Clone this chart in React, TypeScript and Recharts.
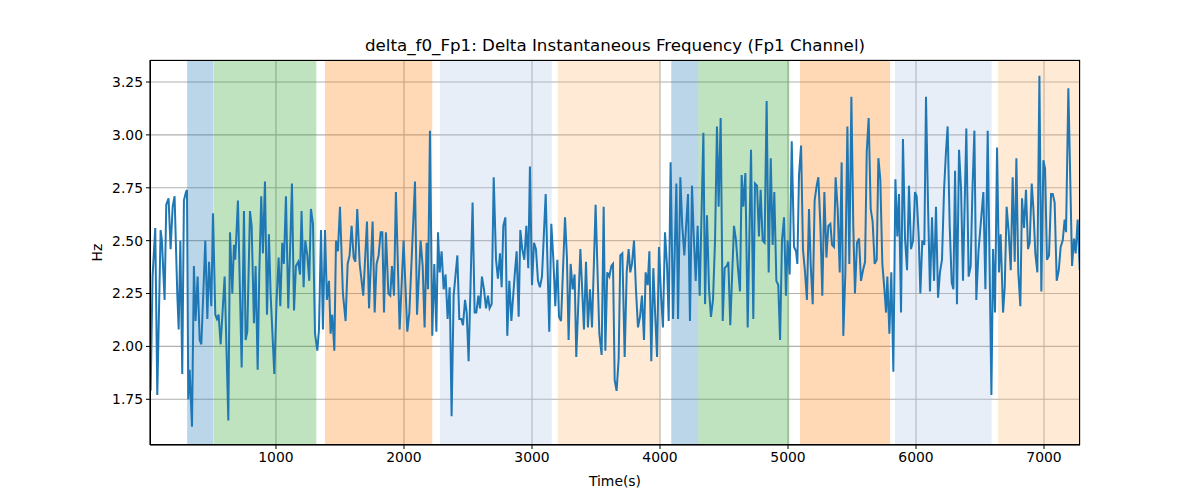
import { ComposedChart, Line, XAxis, YAxis, CartesianGrid, ReferenceArea, Label } from "recharts"

// time stamps (s) of the vertices
const times = [
  21, 36, 57, 73, 99, 109, 130, 143, 161, 177, 193, 208, 229, 240, 253, 268, 281, 297, 305, 315,
  326, 344, 359, 372, 388, 404, 417, 448, 464, 477, 495, 508, 526, 539, 552, 568, 599, 628, 641, 659,
  672, 682, 703, 719, 732, 750, 763, 776, 797, 810, 828, 841, 857, 870, 885, 898, 914, 930, 945, 958,
  987, 1005, 1021, 1034, 1049, 1062, 1078, 1096, 1109, 1125, 1141, 1156, 1174, 1188, 1200, 1216, 1229, 1245, 1260, 1273,
  1289, 1305, 1323, 1336, 1352, 1367, 1383, 1398, 1414, 1427, 1440, 1456, 1469, 1484, 1500, 1523, 1544, 1560, 1575, 1591,
  1607, 1620, 1635, 1654, 1682, 1711, 1727, 1755, 1771, 1786, 1802, 1818, 1831, 1844, 1859, 1878, 1893, 1906, 1922, 1937,
  1966, 1997, 2026, 2042, 2086, 2102, 2130, 2146, 2161, 2177, 2188, 2203, 2221, 2237, 2253, 2266, 2279, 2294, 2310, 2325,
  2341, 2357, 2372, 2388, 2417, 2432, 2448, 2461, 2477, 2490, 2505, 2536, 2552, 2565, 2581, 2594, 2609, 2625, 2641, 2656,
  2669, 2685, 2701, 2719, 2734, 2750, 2763, 2776, 2792, 2807, 2823, 2839, 2864, 2880, 2896, 2909, 2924, 2940, 2956, 2971,
  2984, 3000, 3016, 3031, 3047, 3062, 3078, 3107, 3135, 3151, 3167, 3182, 3198, 3211, 3227, 3258, 3273, 3286, 3302, 3318,
  3333, 3346, 3378, 3406, 3422, 3437, 3453, 3469, 3497, 3526, 3544, 3560, 3573, 3588, 3604, 3620, 3633, 3646, 3661, 3677,
  3690, 3706, 3724, 3740, 3755, 3768, 3781, 3797, 3812, 3828, 3844, 3859, 3875, 3888, 3904, 3917, 3932, 3948, 3961, 3977,
  3992, 4008, 4023, 4039, 4055, 4068, 4083, 4102, 4128, 4141, 4159, 4174, 4190, 4219, 4234, 4250, 4263, 4279, 4294, 4310,
  4339, 4352, 4367, 4383, 4398, 4414, 4430, 4445, 4458, 4474, 4490, 4505, 4521, 4534, 4549, 4578, 4594, 4609, 4625, 4638,
  4651, 4667, 4685, 4711, 4729, 4742, 4758, 4773, 4786, 4802, 4817, 4833, 4849, 4865, 4880, 4893, 4909, 4924, 4938, 4953,
  4969, 4984, 4997, 5013, 5029, 5047, 5063, 5073, 5086, 5102, 5117, 5133, 5148, 5164, 5177, 5193, 5208, 5224, 5237, 5253,
  5268, 5284, 5300, 5315, 5331, 5344, 5359, 5372, 5388, 5404, 5419, 5432, 5448, 5464, 5479, 5495, 5510, 5523, 5539, 5555,
  5570, 5586, 5602, 5615, 5630, 5646, 5661, 5677, 5693, 5706, 5721, 5737, 5753, 5766, 5776, 5792, 5807, 5823, 5839, 5854,
  5867, 5883, 5898, 5914, 5930, 5945, 5961, 5977, 5992, 6005, 6021, 6034, 6049, 6065, 6078, 6094, 6109, 6125, 6141, 6156,
  6172, 6187, 6203, 6219, 6234, 6247, 6263, 6279, 6292, 6305, 6320, 6336, 6352, 6367, 6393, 6411, 6427, 6440, 6456, 6471,
  6488, 6526, 6542, 6560, 6589, 6602, 6617, 6633, 6648, 6661, 6680, 6693, 6708, 6724, 6740, 6755, 6771, 6784, 6799, 6815,
  6828, 6844, 6859, 6875, 6888, 6904, 6917, 6932, 6948, 6964, 6979, 6995, 7008, 7023, 7039, 7055, 7068, 7083, 7099, 7115,
  7130, 7146, 7161, 7172, 7190, 7219, 7234, 7247, 7263, 7279,
]

// delta instantaneous frequency (Hz)
const hz = [
  1.79, 2.33, 2.56, 1.77, 2.55, 2.50, 2.22, 2.67, 2.70, 2.46, 2.66, 2.71, 2.25, 2.08, 2.50, 1.87, 2.69, 2.73, 2.74, 1.75,
  1.89, 1.62, 2.38, 2.12, 2.33, 2.03, 2.01, 2.50, 2.13, 2.40, 2.19, 2.63, 2.15, 2.13, 2.15, 2.01, 2.33, 1.65, 2.54, 2.25,
  2.48, 2.41, 2.69, 2.25, 1.90, 2.64, 2.03, 2.07, 2.64, 2.57, 2.11, 2.38, 1.89, 2.35, 2.71, 2.44, 2.78, 2.15, 2.53, 2.25,
  1.87, 2.22, 2.42, 2.19, 2.49, 2.39, 2.71, 2.18, 2.43, 2.77, 2.17, 2.38, 2.40, 2.34, 2.64, 2.28, 2.50, 2.43, 2.31, 2.65,
  2.58, 2.06, 1.98, 2.08, 2.55, 2.08, 2.55, 2.22, 2.31, 2.06, 2.15, 1.98, 2.50, 2.45, 2.66, 2.25, 2.12, 2.39, 2.43, 2.57,
  2.42, 2.40, 2.65, 2.39, 2.24, 2.59, 2.18, 2.59, 2.16, 2.39, 2.43, 2.54, 2.54, 2.16, 2.54, 2.25, 2.24, 2.38, 2.24, 2.73,
  2.08, 2.50, 2.07, 2.16, 2.78, 2.15, 2.50, 2.38, 2.09, 2.49, 2.27, 3.02, 2.05, 2.39, 2.07, 2.54, 2.35, 2.45, 2.27, 2.34,
  2.13, 2.28, 1.67, 2.24, 2.43, 2.13, 2.13, 2.10, 2.22, 2.16, 1.93, 2.68, 2.16, 2.16, 2.24, 2.18, 2.33, 2.27, 2.18, 2.24,
  2.18, 2.20, 2.80, 2.41, 2.32, 2.44, 2.28, 2.57, 2.61, 2.05, 2.31, 2.12, 2.33, 2.45, 2.14, 2.55, 2.46, 2.41, 2.57, 2.37,
  2.85, 2.29, 2.49, 2.46, 2.31, 2.28, 2.33, 2.72, 2.07, 2.58, 2.41, 2.19, 2.41, 2.14, 2.12, 2.61, 2.42, 2.03, 2.39, 2.27,
  2.34, 1.95, 2.46, 2.08, 2.40, 2.09, 2.27, 2.09, 2.67, 2.06, 1.96, 2.66, 1.98, 2.35, 2.33, 2.38, 2.39, 1.84, 1.79, 1.94,
  2.43, 2.44, 1.95, 2.35, 2.46, 2.35, 2.39, 2.50, 2.27, 2.09, 2.14, 2.24, 2.03, 2.35, 2.29, 2.45, 1.93, 2.37, 2.17, 1.95,
  2.47, 2.24, 2.09, 2.54, 2.38, 2.12, 2.87, 2.13, 2.77, 2.13, 2.80, 2.57, 2.43, 2.72, 2.12, 2.76, 2.53, 2.31, 2.57, 2.24,
  3.01, 2.20, 2.62, 2.27, 2.14, 2.22, 2.50, 3.04, 2.66, 3.08, 2.12, 2.37, 2.38, 2.40, 2.10, 2.57, 2.50, 2.37, 2.26, 2.81,
  2.66, 2.82, 2.09, 2.93, 2.13, 2.77, 2.76, 2.52, 2.74, 2.50, 2.49, 3.16, 2.35, 2.89, 2.48, 2.73, 2.31, 2.29, 2.03, 2.50,
  2.61, 2.24, 2.50, 2.34, 2.97, 2.47, 2.45, 2.39, 2.81, 2.95, 2.46, 2.35, 2.22, 2.65, 2.39, 2.20, 2.69, 2.76, 2.80, 2.57,
  2.24, 2.73, 2.42, 2.57, 2.58, 2.48, 2.47, 2.80, 2.65, 2.35, 2.87, 2.05, 2.35, 3.04, 2.39, 3.18, 2.57, 2.25, 2.49, 2.51,
  2.31, 2.36, 2.40, 2.92, 3.08, 2.65, 2.59, 2.39, 2.41, 2.89, 2.79, 2.39, 2.27, 2.16, 2.33, 2.06, 2.35, 1.88, 2.79, 2.52,
  2.72, 2.16, 2.98, 2.51, 2.36, 2.76, 2.46, 2.50, 2.73, 2.71, 2.52, 2.25, 2.50, 2.48, 3.18, 2.66, 2.26, 2.61, 2.31, 2.66,
  2.23, 2.35, 2.41, 2.74, 2.92, 3.04, 2.57, 2.30, 2.27, 2.83, 2.20, 2.93, 2.74, 2.31, 3.03, 2.33, 2.38, 2.72, 3.02, 2.22,
  2.45, 2.73, 2.27, 3.02, 1.77, 2.46, 2.16, 2.94, 2.35, 2.53, 2.16, 2.28, 2.66, 2.54, 2.36, 2.80, 2.40, 2.89, 2.35, 2.19,
  2.70, 2.56, 2.74, 2.46, 2.49, 2.77, 2.65, 2.44, 2.35, 3.28, 2.26, 2.88, 2.84, 2.41, 2.43, 2.72, 2.72, 2.68, 2.31, 2.36,
  2.47, 2.50, 2.60, 2.54, 3.22, 2.38, 2.51, 2.44, 2.60, 2.36,
]

// shaded segments
const bandStart = [306, 512, 1383, 2281, 3201, 4088, 4299, 5094, 5836, 6641]
const bandEnd = [509, 1315, 2221, 3154, 4002, 4299, 5010, 5797, 6591, 7300]
const bandColor = ["#1f77b4", "#2ca02c", "#ff7f0e", "#aec7e8", "#ffbb78", "#1f77b4", "#2ca02c", "#ff7f0e", "#aec7e8", "#ffbb78"]

const xTicks = [1000, 2000, 3000, 4000, 5000, 6000, 7000]
const yTicks = [1.75, 2.0, 2.25, 2.5, 2.75, 3.0, 3.25]

const data = times.map((t, i) => ({ t, hz: hz[i] }))

const font = "DejaVu Sans, sans-serif"

export default function App() {
  return (
    <div style={{ position: "absolute", left: 0, top: 0, width: 1200, height: 500, background: "#fff", fontFamily: font }}>
      <div
        style={{
          position: "absolute",
          left: 150,
          width: 930,
          top: 35,
          textAlign: "center",
          fontSize: 16.7,
          color: "#000",
          whiteSpace: "nowrap",
        }}
      >
        delta_f0_Fp1: Delta Instantaneous Frequency (Fp1 Channel)
      </div>
      <ComposedChart
        width={1200}
        height={500}
        data={data}
        margin={{ top: 60, right: 120, bottom: 25, left: 0 }}
        style={{ position: "absolute", left: 0, top: 0 }}
      >
        {bandStart.map((s, i) => (
          <ReferenceArea
            key={i}
            x1={s}
            x2={bandEnd[i]}
            y1={1.534}
            y2={3.354}
            fill={bandColor[i]}
            fillOpacity={0.3}
            stroke="none"
            ifOverflow="hidden"
          />
        ))}
        <CartesianGrid stroke="#b0b0b0" strokeWidth={1.1} />
        <XAxis
          dataKey="t"
          type="number"
          domain={[16, 7281]}
          allowDataOverflow
          ticks={xTicks}
          height={30}
          tickSize={4}
          tickMargin={3}
          stroke="#000"
          tick={{ fill: "#000", fontSize: 13.9, fontFamily: font }}
        >
          <Label value="Time(s)" position="insideBottom" offset={-11} fill="#000" fontSize={13.9} fontFamily={font} />
        </XAxis>
        <YAxis
          type="number"
          domain={[1.534, 3.354]}
          allowDataOverflow
          ticks={yTicks}
          width={150}
          tickSize={4}
          tickMargin={3}
          stroke="#000"
          tickFormatter={(v) => v.toFixed(2)}
          tick={{ fill: "#000", fontSize: 13.9, fontFamily: font }}
        >
          <Label value="Hz" angle={-90} position="center" dx={22} fill="#000" fontSize={13.9} fontFamily={font} />
        </YAxis>
        <Line
          dataKey="hz"
          type="linear"
          stroke="#1f77b4"
          strokeWidth={2}
          dot={false}
          isAnimationActive={false}
        />
      </ComposedChart>
      <div
        style={{
          position: "absolute",
          left: 150,
          top: 60,
          width: 930,
          height: 385,
          boxSizing: "border-box",
          border: "1px solid #000",
          pointerEvents: "none",
        }}
      />
    </div>
  )
}
